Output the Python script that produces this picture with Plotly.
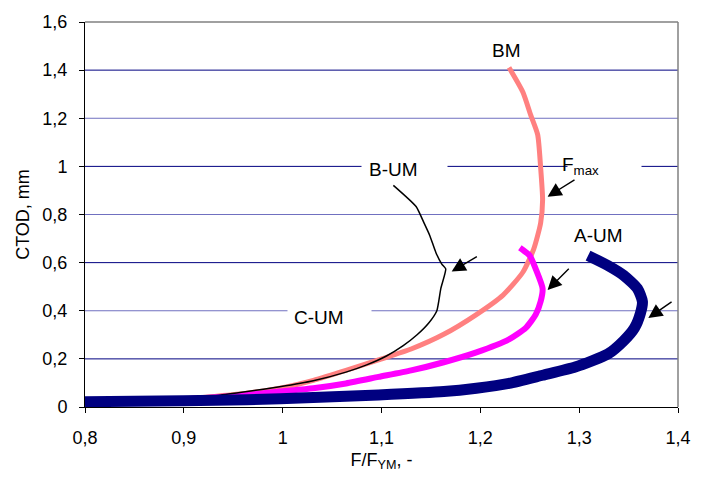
import plotly.graph_objects as go

# ---------------- data ----------------
bm_x = [0.80, 0.86, 0.90, 0.93, 0.964, 0.997, 1.031, 1.064, 1.097, 1.130, 1.163, 1.196,
        1.223, 1.243, 1.254, 1.261, 1.263, 1.261, 1.258, 1.251, 1.243, 1.229]
bm_y = [0.020, 0.027, 0.034, 0.044, 0.057, 0.078, 0.111, 0.152, 0.196, 0.241, 0.302, 0.384,
        0.465, 0.560, 0.656, 0.764, 0.860, 0.996, 1.132, 1.213, 1.309, 1.411]

cum_x = [0.80, 0.86, 0.90, 0.93, 0.964, 0.997, 1.031, 1.064, 1.097, 1.130, 1.163, 1.196,
         1.229, 1.246, 1.256, 1.261, 1.263, 1.256, 1.250, 1.240]
cum_y = [0.020, 0.026, 0.032, 0.040, 0.050, 0.064, 0.078, 0.098, 0.125, 0.152, 0.186, 0.227,
         0.281, 0.329, 0.384, 0.438, 0.492, 0.574, 0.629, 0.662]

bum_x = [0.80, 0.86, 0.90, 0.935, 0.964, 0.997, 1.031, 1.064, 1.085, 1.105, 1.122, 1.136,
         1.148, 1.156, 1.160, 1.165, 1.161, 1.155, 1.149, 1.143, 1.135, 1.112]
bum_y = [0.018, 0.026, 0.035, 0.048, 0.064, 0.084, 0.109, 0.145, 0.175, 0.212, 0.255, 0.300,
         0.350, 0.400, 0.492, 0.574, 0.594, 0.642, 0.711, 0.765, 0.833, 0.921]

aum_x = [0.80, 0.85, 0.90, 0.964, 1.031, 1.097, 1.163, 1.196, 1.229, 1.263, 1.296, 1.329,
         1.345, 1.356, 1.362, 1.364, 1.359, 1.345, 1.329, 1.309]
aum_y = [0.022, 0.024, 0.026, 0.030, 0.039, 0.050, 0.064, 0.078, 0.098, 0.132, 0.166, 0.220,
         0.275, 0.329, 0.390, 0.438, 0.492, 0.547, 0.588, 0.629]

x_ticks = [0.8, 0.9, 1.0, 1.1, 1.2, 1.3, 1.4]
x_ticktext = ["0,8", "0,9", "1", "1,1", "1,2", "1,3", "1,4"]
y_ticks = [0, 0.2, 0.4, 0.6, 0.8, 1.0, 1.2, 1.4, 1.6]
y_ticktext = ["0", "0,2", "0,4", "0,6", "0,8", "1", "1,2", "1,4", "1,6"]
grid_dark = [0.2, 0.6, 1.0, 1.4]
grid_light = [0.4, 0.8, 1.2]

# labels: (text, x, y)
labels = [("BM", 1.226, 1.483), ("B-UM", 1.112, 0.985), ("F<sub>max</sub>", 1.301, 1.002),
          ("A-UM", 1.320, 0.713), ("C-UM", 1.037, 0.373)]
# label masks on gridlines: (x centre, y, width px)
masks = [(1.123, 1.0, 85), (1.3255, 1.0, 73), (1.047, 0.4, 83)]
# arrows: (head x, head y, tail x, tail y)
arrows = [(1.268, 0.874, 1.2968, 0.948), (1.171, 0.563, 1.198, 0.629),
          (1.268, 0.486, 1.291, 0.581), (1.370, 0.370, 1.395, 0.441)]

FONT = "Liberation Sans, Arial, sans-serif"

fig = go.Figure()
fig.add_trace(go.Scatter(x=bm_x, y=bm_y, mode="lines", line=dict(color="#FF8080", width=5, shape="spline", smoothing=0.6)))
fig.add_trace(go.Scatter(x=cum_x, y=cum_y, mode="lines", line=dict(color="#FF00FF", width=6, shape="spline", smoothing=0.6)))
fig.add_trace(go.Scatter(x=bum_x, y=bum_y, mode="lines", line=dict(color="#000000", width=1.5, shape="spline", smoothing=0.5)))
fig.add_trace(go.Scatter(x=aum_x, y=aum_y, mode="lines", line=dict(color="#000080", width=11, shape="spline", smoothing=0.6)))

shapes = []
for g in grid_dark:
    shapes.append(dict(type="line", xref="paper", x0=0, x1=1, yref="y", y0=g, y1=g,
                       line=dict(color="#000080", width=1), layer="below"))
for g in grid_light:
    shapes.append(dict(type="line", xref="paper", x0=0, x1=1, yref="y", y0=g, y1=g,
                       line=dict(color="#7070C0", width=1), layer="below"))
# grey top and right frame
shapes.append(dict(type="line", xref="paper", yref="paper", x0=0, x1=1, y0=1, y1=1,
                   line=dict(color="#808080", width=1.5)))
shapes.append(dict(type="line", xref="paper", yref="paper", x0=1, x1=1, y0=0, y1=1,
                   line=dict(color="#808080", width=1.5)))

annotations = []
for mx, my, w in masks:
    annotations.append(dict(x=mx, y=my, xref="x", yref="y", text=" ", showarrow=False,
                            width=w, height=22, bgcolor="white", borderpad=0,
                            font=dict(size=18)))
for t, lx, ly in labels:
    annotations.append(dict(x=lx, y=ly, xref="x", yref="y", text=t, showarrow=False,
                            font=dict(family=FONT, size=19, color="black")))
for hx, hy, tx, ty in arrows:
    annotations.append(dict(x=hx, y=hy, ax=tx, ay=ty, xref="x", yref="y", axref="x", ayref="y",
                            text="", showarrow=True, arrowhead=2, arrowsize=2.0, arrowwidth=1.4,
                            arrowcolor="black"))

fig.update_layout(
    width=703, height=481,
    margin=dict(l=85, r=15, t=15, b=74),
    paper_bgcolor="white", plot_bgcolor="white",
    showlegend=False,
    font=dict(family=FONT, size=18, color="black"),
    shapes=shapes, annotations=annotations,
    xaxis=dict(range=[0.8, 1.4], tickvals=x_ticks, ticktext=x_ticktext, showgrid=False,
               zeroline=False, showline=True, linecolor="black", linewidth=1,
               ticks="outside", ticklen=5, tickcolor="black", ticklabelstandoff=9,
               tickfont=dict(size=18),
               title=dict(text="F/F<sub>YM</sub>, -", font=dict(size=18), standoff=6)),
    yaxis=dict(range=[0, 1.6], tickvals=y_ticks, ticktext=y_ticktext, showgrid=False,
               zeroline=False, showline=True, linecolor="black", linewidth=1,
               ticks="outside", ticklen=5, tickcolor="black", ticklabelstandoff=8,
               tickfont=dict(size=18),
               title=dict(text="CTOD, mm", font=dict(size=18), standoff=8)),
)

fig.write_html("out.html")
